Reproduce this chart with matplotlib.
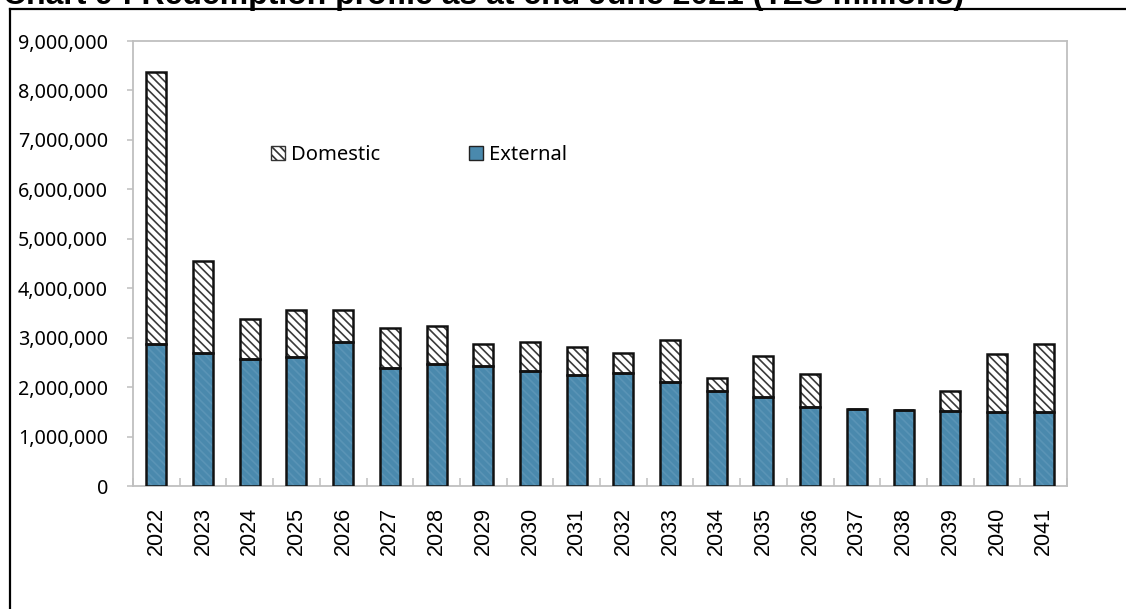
import matplotlib
matplotlib.use("Agg")
import matplotlib.pyplot as plt
import numpy as np
from matplotlib.lines import Line2D
from matplotlib.patches import Patch
from matplotlib.ticker import FuncFormatter, FixedLocator

# data (TZS millions)
years = [str(y) for y in range(2022, 2042)]
external = [2870000, 2700000, 2570000, 2610000, 2910000, 2390000, 2470000, 2430000,
            2330000, 2250000, 2290000, 2100000, 1920000, 1790000, 1590000, 1560000,
            1530000, 1520000, 1490000, 1490000]
total = [8380000, 4550000, 3380000, 3560000, 3560000, 3200000, 3240000, 2880000,
         2910000, 2810000, 2700000, 2950000, 2180000, 2620000, 2270000, 1560000,
         1530000, 1930000, 2660000, 2870000]
domestic = [t - e for t, e in zip(total, external)]

title = "Chart 9 : Redemption profile as at end June 2021 (TZS millions)"

W, H = 1126, 609
fig = plt.figure(figsize=(W / 100, H / 100), dpi=100)
ax = fig.add_axes([133 / W, 1 - 486 / H, (1067 - 133) / W, (486 - 41) / H])

x = np.arange(len(years))
bw = 0.43
blue = "#4a89ad"
grey = "#bfbfbf"

# external: blue with a faint diagonal texture
plt.rcParams["hatch.linewidth"] = 1.2
ax.bar(x, external, bw, color=blue, edgecolor="#5a94b6", hatch="\\\\\\\\", linewidth=0, zorder=3)
ax.bar(x, external, bw, fill=False, edgecolor="#111111", linewidth=1.8, zorder=4)

# domestic: white with dark diagonal hatch
ax.bar(x, domestic, bw, bottom=external, color="white", edgecolor="#3a3a3a",
       hatch="\\\\\\\\", linewidth=0, zorder=3)
ax.bar(x, domestic, bw, bottom=external, fill=False, edgecolor="#111111",
       linewidth=1.8, zorder=4)

ax.set_xlim(-0.5, len(years) - 0.5)
ax.set_ylim(0, 9000000)
ax.set_yticks(np.arange(0, 9000001, 1000000))
ax.yaxis.set_major_formatter(FuncFormatter(lambda v, p: f"{int(v):,}"))

ax.set_xticks(x)
ax.set_xticklabels(years, rotation=90, fontfamily="Liberation Sans", fontsize=15.5)
ax.xaxis.set_minor_locator(FixedLocator(np.arange(-0.5, len(years), 1)))
ax.tick_params(axis="x", which="major", length=0, pad=15)
ax.tick_params(axis="x", which="minor", direction="in", length=6, color=grey, width=1.1)
ax.tick_params(axis="y", direction="out", length=4, color=grey, width=1.1, pad=14)
for lab in ax.get_yticklabels():
    lab.set_fontfamily("Noto Sans")
    lab.set_fontsize(14.2)

for s in ax.spines.values():
    s.set_color(grey)
    s.set_linewidth(1.3)
    s.set_zorder(2)

# legend
handles = [Patch(facecolor="white", edgecolor="#333333", hatch="\\\\\\\\", label="Domestic"),
           Patch(facecolor=blue, edgecolor="#222222", label="External")]
fig.legend(handles=handles, loc="center left", bbox_to_anchor=(271 / W, 1 - 155 / H),
           ncol=2, frameon=False, borderpad=0, borderaxespad=0,
           handlelength=0.7, handleheight=0.7, handletextpad=0.3, columnspacing=4.4,
           prop={"family": "Noto Sans", "size": 14.5})

# outer frame and title (clipped at the top, as in the source)
fig.add_artist(Line2D([10 / W, 1.0], [1 - 8.5 / H, 1 - 8.5 / H], color="black", lw=1.6))
fig.add_artist(Line2D([10 / W, 10 / W], [0, 1 - 8.5 / H], color="black", lw=1.6))
fig.text(3 / W, 1 - 4 / H, title, fontfamily="Liberation Sans", fontweight="bold",
         fontsize=23, va="baseline", ha="left")

fig.savefig("out.png", dpi=100)
